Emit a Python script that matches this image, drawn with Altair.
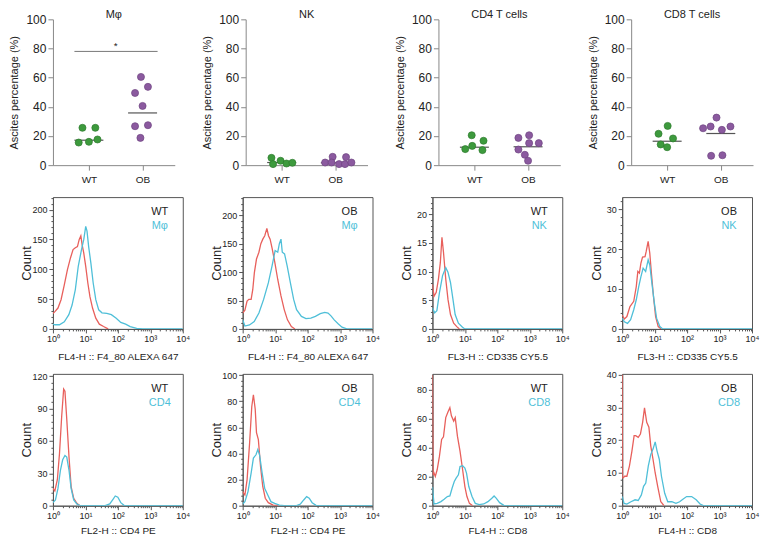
import math
import altair as alt
import pandas as pd

# ---------------- top row: scatter of ascites percentages ----------------
PANEL_TITLES = ["Mφ", "NK", "CD4 T cells", "CD8 T cells"]
GROUPS = ["WT", "OB"]

# (horizontal jitter, value %)
mphi_wt = [(-0.12, 25.6), (0.12, 25.6), (-0.19, 15.5), (0.0, 16.0), (0.16, 17.6)]
mphi_ob = [(-0.03, 60.5), (0.10, 53.7), (-0.14, 49.5), (0.0, 40.6), (-0.14, 26.7), (0.10, 27.4), (-0.04, 18.7)]
nk_wt = [(-0.19, 5.0), (-0.16, 0.7), (-0.02, 3.0), (0.09, 1.1), (0.20, 1.6)]
nk_ob = [(-0.19, 1.8), (-0.05, 5.7), (-0.07, 1.8), (0.07, 0.7), (0.20, 5.5), (0.18, 0.7), (0.30, 1.8)]
cd4_wt = [(-0.05, 20.5), (-0.17, 11.0), (-0.04, 13.2), (0.17, 16.7), (0.15, 10.3)]
cd4_ob = [(-0.18, 18.7), (0.02, 20.5), (-0.18, 10.7), (0.02, 15.1), (0.20, 15.1), (-0.06, 7.1), (0.0, 3.0)]
cd8_wt = [(0.01, 26.9), (-0.16, 21.5), (-0.12, 14.2), (0.11, 18.3), (0.0, 12.3)]
cd8_ob = [(-0.33, 25.3), (-0.19, 26.5), (-0.08, 32.6), (0.02, 24.2), (0.18, 26.5), (-0.18, 6.4), (0.03, 6.8)]
median_wt = [17.1, 1.8, 12.3, 16.4]
median_ob = [35.8, 1.6, 12.6, 21.7]
sig_level = 78
sig_label = "*"

DOTS = [(mphi_wt, mphi_ob), (nk_wt, nk_ob), (cd4_wt, cd4_ob), (cd8_wt, cd8_ob)]

# ---------------- histograms: (log10 decade, count) ----------------
r2c1_iso = [(0.0, 26), (0.06, 29), (0.155, 35), (0.25, 49), (0.35, 74), (0.445, 99), (0.54, 119), (0.62, 133),
            (0.69, 136), (0.755, 138), (0.81, 150), (0.86, 156), (0.90, 141), (0.95, 127), (1.01, 105),
            (1.075, 77), (1.14, 54), (1.22, 35), (1.32, 18), (1.43, 8), (1.56, 4), (1.70, 0)]
r2c1_pos = [(0.0, 8), (0.06, 7), (0.2, 7), (0.35, 12), (0.49, 24), (0.59, 40), (0.69, 66), (0.78, 105),
            (0.88, 133), (0.95, 150), (1.01, 172), (1.05, 164), (1.10, 138), (1.17, 110), (1.24, 77),
            (1.32, 49), (1.41, 32), (1.51, 27), (1.66, 26), (1.80, 24), (1.95, 18), (2.09, 11), (2.24, 8),
            (2.38, 4), (2.58, 1), (2.77, 0), (4.0, 0)]
r2c2_iso = [(0.0, 28), (0.068, 33), (0.135, 49), (0.19, 52), (0.26, 52), (0.31, 69), (0.36, 99), (0.425, 123),
            (0.50, 135), (0.56, 150), (0.62, 158), (0.68, 164), (0.745, 177), (0.795, 164), (0.845, 158),
            (0.91, 141), (0.99, 117), (1.08, 87), (1.18, 58), (1.28, 34), (1.38, 16), (1.50, 4), (1.61, 0)]
r2c2_pos = [(0.0, 16), (0.068, 5), (0.21, 7), (0.355, 13), (0.50, 28), (0.645, 52), (0.79, 81), (0.905, 111),
            (1.0, 138), (1.08, 135), (1.13, 150), (1.18, 158), (1.22, 135), (1.29, 132), (1.37, 111),
            (1.47, 81), (1.57, 52), (1.66, 34), (1.81, 22), (1.95, 18), (2.10, 19), (2.24, 22), (2.39, 27),
            (2.53, 29), (2.63, 28), (2.72, 23), (2.82, 16), (2.94, 9), (3.06, 3), (3.21, 0), (4.0, 0)]
r2c3_iso = [(0.0, 7.8), (0.05, 5.7), (0.117, 6.4), (0.185, 8.7), (0.244, 11.6), (0.293, 16.0), (0.34, 13.4),
            (0.41, 8.7), (0.48, 5.1), (0.556, 2.5), (0.654, 1.0), (0.75, 0.4), (0.83, 0)]
r2c3_pos = [(0.0, 3.7), (0.068, 2.8), (0.137, 3.2), (0.215, 6.3), (0.312, 9.3), (0.41, 10.7), (0.478, 9.9),
            (0.556, 8.1), (0.634, 5.1), (0.70, 2.5), (0.80, 1.0), (0.927, 0.3), (1.0, 0), (4.0, 0)]
r2c4_iso = [(0.0, 3.5), (0.067, 2.5), (0.145, 3.1), (0.24, 5.6), (0.356, 6.9), (0.434, 10.6), (0.482, 14.4),
            (0.53, 14.0), (0.578, 16.5), (0.627, 18.0), (0.704, 18.1), (0.74, 19.4), (0.80, 21.9),
            (0.85, 19.0), (0.90, 14.0), (0.964, 8.1), (1.03, 3.1), (1.11, 0.6), (1.20, 0)]
r2c4_pos = [(0.0, 2.7), (0.067, 1.8), (0.164, 1.4), (0.26, 2.3), (0.356, 4.8), (0.434, 7.3), (0.51, 10.6),
            (0.578, 13.1), (0.645, 15.2), (0.723, 14.4), (0.80, 17.3), (0.85, 16.0), (0.916, 11.4),
            (0.993, 6.4), (1.06, 2.7), (1.16, 0.6), (1.25, 0), (4.0, 0)]
r3c1_iso = [(0.0, 16), (0.058, 13.6), (0.136, 24), (0.203, 48.7), (0.27, 83), (0.33, 108), (0.37, 106),
            (0.426, 80), (0.494, 45.6), (0.56, 17.7), (0.64, 6.8), (0.736, 2.2), (0.833, 0)]
r3c1_pos = [(0.0, 2.8), (0.077, 5.3), (0.155, 16), (0.232, 33), (0.30, 42.5), (0.37, 46.5), (0.426, 45),
            (0.494, 33), (0.56, 16), (0.64, 5.3), (0.736, 1.6), (0.833, 0), (1.61, 0), (1.75, 1.6),
            (1.85, 5.9), (1.92, 9), (2.0, 7.8), (2.09, 2.8), (2.19, 0.3), (2.29, 0), (4.0, 0)]
r3c2_iso = [(0.0, 10.8), (0.068, 8.2), (0.135, 19.8), (0.213, 48), (0.28, 76), (0.33, 85), (0.386, 74),
            (0.425, 56), (0.483, 50.6), (0.55, 30), (0.618, 14.7), (0.696, 5.7), (0.79, 2.3), (0.937, 0.5),
            (1.08, 0)]
r3c2_pos = [(0.0, 1.3), (0.068, 3.1), (0.164, 10.8), (0.26, 25), (0.33, 36.5), (0.41, 39), (0.466, 43),
            (0.52, 39), (0.60, 25), (0.677, 13.4), (0.773, 8.2), (0.87, 3.1), (0.986, 1.8), (1.13, 0.5),
            (1.275, 0), (1.66, 0), (1.78, 1.3), (1.88, 4.4), (1.97, 6.9), (2.05, 5.7), (2.14, 2.3),
            (2.26, 0.3), (2.39, 0), (4.0, 0)]
r3c3_iso = [(0.0, 90), (0.02, 21), (0.049, 22.5), (0.088, 20.2), (0.146, 24.8), (0.215, 34), (0.283, 45.7),
            (0.34, 47.5), (0.41, 60.8), (0.478, 64.7), (0.537, 67.7), (0.585, 62), (0.654, 58.4),
            (0.702, 60.8), (0.77, 48), (0.85, 37.6), (0.93, 24.8), (1.0, 13.2), (1.063, 6.3), (1.14, 1.6),
            (1.24, 0)]
r3c3_pos = [(0.0, 13), (0.049, 1.2), (0.146, 1.6), (0.263, 2.8), (0.36, 4.4), (0.46, 6.3), (0.537, 6.7),
            (0.605, 12), (0.673, 16.7), (0.73, 19), (0.80, 21.3), (0.85, 27), (0.93, 27.6), (1.0, 26),
            (1.05, 22.5), (1.12, 13.2), (1.22, 6.3), (1.32, 1.6), (1.44, 0.7), (1.58, 1.2), (1.71, 2.8),
            (1.83, 5.1), (1.90, 6.7), (1.97, 5.1), (2.07, 2.1), (2.2, 0.2), (2.31, 0), (4.0, 0)]
r3c4_iso = [(0.0, 40), (0.01, 8.5), (0.029, 8.5), (0.077, 9), (0.145, 9), (0.223, 12.1), (0.30, 16.7),
            (0.368, 21.4), (0.416, 21.4), (0.494, 20.9), (0.562, 21.9), (0.63, 25.5), (0.688, 29.9),
            (0.756, 25.5), (0.823, 24), (0.88, 18.3), (0.95, 14.2), (1.017, 10), (1.094, 5.9), (1.19, 1.2),
            (1.29, 0)]
r3c4_pos = [(0.0, 2.8), (0.058, 0.7), (0.145, 0.5), (0.27, 1.2), (0.397, 1.8), (0.494, 1.6), (0.591, 3.3),
            (0.659, 5.9), (0.727, 6.9), (0.804, 12.1), (0.882, 15.7), (0.95, 17.3), (1.017, 19.5),
            (1.075, 16.7), (1.143, 14.2), (1.21, 9), (1.31, 3.8), (1.404, 1.2), (1.53, 1.2), (1.656, 0.7),
            (1.77, 1.2), (1.87, 2), (1.985, 2.8), (2.14, 2.8), (2.28, 1.8), (2.4, 0.5), (2.5, 0), (4.0, 0)]

# isotype, stained, sample, marker, x title, y max, major step, minor step
HIST_ROW2 = [
    (r2c1_iso, r2c1_pos, "WT", "Mφ", "FL4-H :: F4_80 ALEXA 647", 221, 50, 10),
    (r2c2_iso, r2c2_pos, "OB", "Mφ", "FL4-H :: F4_80 ALEXA 647", 232, 50, 10),
    (r2c3_iso, r2c3_pos, "WT", "NK", "FL3-H :: CD335 CY5.5", 23, 5, 1),
    (r2c4_iso, r2c4_pos, "OB", "NK", "FL3-H :: CD335 CY5.5", 33, 10, 2),
]
HIST_ROW3 = [
    (r3c1_iso, r3c1_pos, "WT", "CD4", "FL2-H :: CD4 PE", 122, 30, 6),
    (r3c2_iso, r3c2_pos, "OB", "CD4", "FL2-H :: CD4 PE", 101, 20, 4),
    (r3c3_iso, r3c3_pos, "WT", "CD8", "FL4-H :: CD8", 91, 20, 4),
    (r3c4_iso, r3c4_pos, "OB", "CD8", "FL4-H :: CD8", 40.3, 10, 2),
]

FONT = "Liberation Sans"
GREEN = "#3d9a3d"
GREEN_EDGE = "#2c7a2c"
PURPLE = "#8b5a9f"
PURPLE_EDGE = "#6d4480"
RED = "#e8605c"
BLUE = "#4fbfd8"
TXT = "#222222"

DOT_W, DOT_H = 122, 146
H_W, H_H = 130, 132
XDOM = [0.33, 2.6]


def dot_panel(i):
    wt, ob = DOTS[i]
    df_wt = pd.DataFrame({"x": [1 + o for o, _ in wt], "v": [v for _, v in wt]})
    df_ob = pd.DataFrame({"x": [2 + o for o, _ in ob], "v": [v for _, v in ob]})
    med = pd.DataFrame({"x": [0.73, 1.73], "x2": [1.27, 2.27], "v": [median_wt[i], median_ob[i]]})
    xs = alt.X("x:Q", scale=alt.Scale(domain=XDOM, nice=False, zero=False),
               axis=alt.Axis(values=[1, 2], labelExpr="datum.value == 1 ? 'WT' : 'OB'", title=None,
                             grid=False, tickSize=5, labelFontSize=10, labelPadding=4,
                             domainColor="#888888", tickColor="#888888", labelFlush=False))
    ys = alt.Y("v:Q", scale=alt.Scale(domain=[0, 100], nice=False),
               axis=alt.Axis(values=[0, 20, 40, 60, 80, 100], title="Ascites percentage (%)", grid=False,
                             tickSize=5, labelFontSize=12, titleFontSize=11, labelPadding=2,
                             minExtent=26, maxExtent=26, titlePadding=7,
                             domainColor="#888888", tickColor="#888888"))
    rule = alt.Chart(med).mark_rule(color="#555555", strokeWidth=1.2).encode(x=xs, x2="x2:Q", y=ys)
    p_wt = alt.Chart(df_wt).mark_circle(size=50, opacity=1, fill=GREEN, stroke=GREEN_EDGE,
                                        strokeWidth=0.7).encode(x=xs, y=ys)
    p_ob = alt.Chart(df_ob).mark_circle(size=50, opacity=1, fill=PURPLE, stroke=PURPLE_EDGE,
                                        strokeWidth=0.7).encode(x=xs, y=ys)
    layers = [rule, p_wt, p_ob]
    if i == 0:
        sig = pd.DataFrame({"x": [0.73], "x2": [2.28], "v": [sig_level]})
        layers.append(alt.Chart(sig).mark_rule(color="#777777", strokeWidth=1).encode(x=xs, x2="x2:Q", y=ys))
        sig_t = pd.DataFrame({"x": [1.5], "v": [sig_level], "t": [sig_label]})
        layers.append(alt.Chart(sig_t).mark_text(fontSize=10, dy=-5, color=TXT, font=FONT).encode(
            x=xs, y=ys, text="t:N"))
    return alt.layer(*layers).properties(
        width=DOT_W, height=DOT_H,
        title=alt.TitleParams(PANEL_TITLES[i], fontSize=11, fontWeight="normal", font=FONT, color=TXT,
                              offset=-7),
        view=alt.ViewBackground(stroke="transparent"),
    )


XVALS = sorted([d + math.log10(k) for d in range(4) for k in range(1, 10)] + [4])
SUP = "['⁰','¹','²','³','⁴']"


def hist_panel(spec, title_pad):
    iso, pos, sample, marker, xtitle, ymax, major, minor = spec
    df_iso = pd.DataFrame({"e": [e for e, _ in iso], "c": [c for _, c in iso]})
    df_pos = pd.DataFrame({"e": [e for e, _ in pos], "c": [c for _, c in pos]})
    yvals = []
    k = 0
    while k * minor <= ymax + 1e-9:
        yvals.append(k * minor)
        k += 1
    x = alt.X("e:Q", scale=alt.Scale(domain=[0, 4], nice=False, zero=False),
              axis=alt.Axis(values=XVALS, labelExpr="datum.value % 1 == 0 ? '10' + " + SUP + "[datum.value] : ''",
                            tickSize={"condition": {"test": "datum.value % 1 == 0", "value": 4}, "value": 2},
                            labelOverlap=False, labelFlush=False, grid=False, title=xtitle,
                            labelFontSize=9, titleFontSize=10, titlePadding=title_pad, labelPadding=2,
                            domainColor="#555555", tickColor="#555555", titleFontWeight="normal"))
    y = alt.Y("c:Q", scale=alt.Scale(domain=[0, ymax], nice=False),
              axis=alt.Axis(values=yvals, labelExpr="datum.value % " + str(major) + " == 0 ? datum.label : ''",
                            tickSize={"condition": {"test": "datum.value % " + str(major) + " == 0", "value": 4},
                                      "value": 2},
                            labelOverlap=False, grid=False, title="Count", labelFontSize=9, titleFontSize=13,
                            labelPadding=2, minExtent=18, maxExtent=18, titlePadding=1,
                            domainColor="#555555", tickColor="#555555"))
    l_iso = alt.Chart(df_iso).mark_line(strokeWidth=1.3, clip=True, color=RED).encode(x=x, y=y)
    l_pos = alt.Chart(df_pos).mark_line(strokeWidth=1.3, clip=True, color=BLUE).encode(x=x, y=y)
    lab = pd.DataFrame({"t": [sample]})
    lab2 = pd.DataFrame({"t": [marker]})
    t1 = alt.Chart(lab).mark_text(fontSize=11, color=TXT, font=FONT).encode(
        text="t:N", x=alt.value(H_W - 23), y=alt.value(15))
    t2 = alt.Chart(lab2).mark_text(fontSize=11, color=BLUE, font=FONT).encode(
        text="t:N", x=alt.value(H_W - 23), y=alt.value(29))
    return alt.layer(l_iso, l_pos, t1, t2).properties(
        width=H_W, height=H_H, view=alt.ViewBackground(stroke="#555555", strokeWidth=1))


row1 = alt.hconcat(*[dot_panel(i) for i in range(4)], spacing=71, bounds="flush")
row2 = alt.hconcat(*[hist_panel(s, 8) for s in HIST_ROW2], spacing=60, bounds="flush")
row3 = alt.hconcat(*[hist_panel(s, 5) for s in HIST_ROW3], spacing=60, bounds="flush")

chart = alt.vconcat(row1, row2, row3, spacing=7).properties(
    padding=0
).configure_axis(
    labelFont=FONT, titleFont=FONT, labelColor=TXT, titleColor=TXT, titleFontWeight="normal"
)

chart.save("out.html", embed_options={"renderer": "svg", "actions": False})
